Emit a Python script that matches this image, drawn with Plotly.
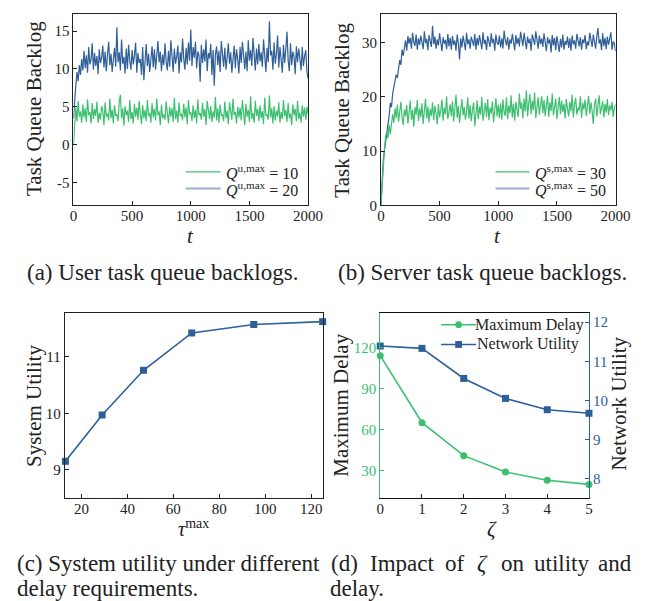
import plotly.graph_objects as go

# ---------------- data ----------------
t_vals = list(range(0, 2001, 10))

user_q10 = [0.0,
    3.4, 4.9, 3.1, 5.8, 3.7, 4.4, 2.9, 5.3, 3.6, 4.8, 3.0, 6.0, 3.9, 4.3, 2.8, 5.5, 3.4, 4.7, 3.8, 5.7,
    2.9, 4.2, 3.3, 5.1, 4.5, 2.6, 5.6, 3.7, 4.1, 3.2, 6.1, 3.5, 4.6, 2.8, 5.2, 3.8, 4.0, 3.1, 5.7, 6.6,
    3.5, 4.8, 2.5, 5.1, 3.9, 4.5, 3.0, 5.9, 3.4, 4.3, 2.8, 5.4, 3.7, 4.9, 3.3, 5.8, 4.1, 2.7, 5.2, 3.5,
    4.6, 3.1, 5.9, 3.8, 4.2, 2.9, 5.5, 3.6, 4.7, 3.2, 6.1, 3.9, 4.4, 2.6, 5.3, 3.5, 4.0, 3.3, 5.7, 4.2,
    2.8, 5.0, 3.7, 4.8, 3.0, 6.2, 3.4, 4.5, 2.9, 5.6, 3.8, 4.1, 3.2, 5.4, 3.6, 4.9, 2.7, 5.9, 4.0, 4.3,
    3.1, 5.2, 3.5, 4.6, 2.8, 6.0, 3.9, 4.2, 3.3, 5.5, 3.7, 4.7, 2.6, 5.8, 4.1, 3.4, 5.1, 3.0, 4.4, 3.6,
    6.3, 3.2, 4.8, 2.9, 5.3, 3.8, 4.0, 3.1, 5.7, 3.5, 4.5, 2.7, 5.6, 4.2, 3.3, 6.1, 3.9, 4.3, 2.8, 5.0,
    3.6, 4.9, 3.2, 5.9, 4.1, 2.6, 5.4, 3.7, 4.6, 3.0, 6.4, 3.4, 4.2, 2.9, 5.8, 3.8, 4.7, 3.1, 5.2, 3.5,
    4.4, 2.7, 6.2, 3.9, 4.0, 3.3, 6.5, 3.6, 4.8, 2.8, 5.1, 3.2, 4.5, 3.7, 5.6, 2.9, 4.3, 3.4, 5.9, 3.8,
    4.6, 3.0, 5.5, 3.5, 4.1, 2.6, 5.3, 3.9, 4.7, 3.1, 5.8, 3.4, 4.2, 2.9, 5.2, 3.7, 4.9, 3.3, 5.0, 4.1]

user_q20 = [3.5,
    6.5, 7.8, 9.6, 8.4, 10.5, 9.2, 11.3, 9.8, 12.4, 10.1, 11.8, 9.5, 12.9, 10.6, 11.2, 13.4, 9.9, 12.1, 10.4, 11.7,
    9.3, 12.6, 10.8, 11.5, 13.1, 10.2, 12.3, 9.7, 11.9, 13.6, 10.5, 12.0, 9.6, 11.4, 12.8, 10.3, 15.5, 10.9, 12.2, 9.8,
    13.9, 10.7, 11.6, 9.4, 12.7, 10.0, 13.2, 11.1, 9.9, 12.5, 10.6, 11.8, 13.5, 9.5, 12.1, 10.8, 11.3, 9.2, 12.9, 8.5,
    11.7, 13.3, 10.4, 12.0, 9.6, 11.5, 13.0, 10.2, 12.6, 9.9, 11.4, 13.7, 10.9, 12.3, 9.7, 11.9, 10.5, 13.4, 11.0, 9.8,
    12.4, 10.3, 13.8, 11.2, 9.6, 12.7, 10.7, 11.6, 13.1, 9.4, 12.2, 10.9, 14.0, 11.3, 9.9, 12.8, 10.6, 13.5, 11.1, 15.2,
    10.4, 12.9, 11.5, 13.6, 10.1, 12.3, 11.8, 8.3, 13.2, 10.8, 12.6, 11.0, 13.9, 9.7, 12.1, 11.4, 13.3, 9.2, 12.5, 7.8,
    11.9, 13.0, 10.5, 12.4, 9.6, 13.7, 11.2, 10.3, 12.8, 9.9, 11.6, 13.4, 10.7, 12.2, 9.5, 11.8, 13.1, 10.1, 12.6, 11.3,
    9.4, 12.9, 10.8, 13.6, 11.5, 10.0, 12.3, 9.7, 13.8, 11.1, 12.5, 10.4, 14.1, 11.7, 9.8, 12.7, 10.6, 13.3, 11.0, 12.2,
    10.3, 13.9, 11.4, 9.6, 12.8, 10.9, 16.3, 11.8, 12.4, 9.9, 13.5, 10.7, 12.0, 14.4, 10.2, 12.9, 11.3, 9.5, 13.2, 10.8,
    12.6, 14.9, 11.1, 9.7, 13.4, 10.5, 12.3, 11.6, 9.3, 13.0, 10.9, 12.7, 11.4, 9.8, 12.9, 10.4, 11.7, 12.5, 9.6, 8.7]

server_q30 = [0.0,
    4.2, 7.9, 10.3, 12.8, 13.5, 12.4, 14.9, 13.1, 15.6, 16.8, 15.2, 17.9, 16.1, 18.6, 15.4, 17.3, 19.1, 16.2, 14.8, 17.7,
    16.4, 18.5, 15.1, 17.2, 19.3, 15.8, 17.6, 14.5, 18.1, 16.7, 19.4, 15.5, 17.9, 16.3, 18.8, 15.0, 17.4, 19.7, 16.0, 18.2,
    15.3, 17.8, 16.5, 19.0, 15.7, 18.4, 16.9, 14.9, 18.7, 16.2, 17.5, 19.5, 15.6, 18.0, 16.8, 20.1, 15.9, 17.1, 18.6, 16.4,
    19.2, 15.4, 17.7, 20.4, 16.1, 18.3, 15.2, 17.9, 19.6, 16.6, 18.1, 15.8, 17.3, 19.9, 16.0, 18.5, 15.5, 17.6, 19.0, 14.6,
    17.8, 19.3, 15.9, 18.2, 16.7, 20.0, 15.6, 17.4, 18.9, 16.3, 19.6, 15.7, 18.0, 16.9, 19.2, 15.3, 17.7, 19.8, 16.4, 18.6,
    16.1, 18.8, 15.8, 19.5, 17.2, 16.5, 19.9, 15.9, 18.4, 17.0, 20.3, 16.2, 18.7, 15.6, 19.1, 17.5, 16.3, 20.6, 17.8, 19.0,
    16.0, 19.7, 17.3, 21.2, 16.4, 18.9, 20.5, 16.8, 19.3, 17.6, 20.8, 16.1, 18.6, 19.9, 16.7, 18.2, 20.1, 17.0, 19.4, 16.5,
    18.8, 20.2, 16.3, 19.0, 17.4, 20.6, 16.6, 18.5, 19.7, 15.9, 18.1, 20.0, 16.8, 19.3, 17.2, 18.7, 16.0, 19.6, 17.9, 16.4,
    19.1, 17.3, 20.4, 16.2, 18.6, 19.8, 16.7, 18.0, 17.5, 20.1, 16.1, 18.9, 17.7, 19.5, 16.5, 18.3, 20.2, 16.9, 19.0, 17.4,
    15.0, 18.5, 19.7, 16.4, 18.1, 20.3, 16.8, 17.9, 19.2, 16.2, 18.7, 17.1, 19.6, 16.6, 18.4, 17.5, 19.1, 16.3, 18.0, 18.6]

server_q50 = [0.0,
    4.5, 8.2, 10.1, 11.5, 13.6, 14.8, 16.5, 18.9, 18.1, 20.6, 21.8, 22.4, 24.1, 23.5, 25.6, 26.8, 25.9, 28.7, 27.6, 29.3,
    30.4, 28.5, 31.2, 29.8, 30.9, 28.9, 31.8, 30.1, 29.4, 31.5, 28.7, 30.8, 29.6, 31.3, 30.2, 28.8, 32.1, 29.9, 30.7, 28.6,
    31.4, 30.0, 29.2, 33.1, 29.7, 31.1, 28.9, 30.6, 29.5, 31.7, 30.3, 28.4, 31.0, 29.8, 30.5, 28.8, 31.6, 29.3, 30.9, 28.7,
    31.2, 29.6, 30.4, 28.5, 31.5, 29.9, 26.9, 30.8, 29.1, 31.3, 30.0, 28.6, 31.8, 29.7, 30.6, 28.9, 31.1, 30.2, 29.4, 31.6,
    28.7, 30.9, 29.5, 31.4, 30.1, 28.8, 31.9, 29.8, 30.5, 28.6, 31.2, 30.3, 29.2, 31.7, 29.9, 30.7, 28.5, 31.5, 30.0, 29.6,
    31.3, 29.1, 30.8, 28.9, 32.2, 30.4, 29.5, 31.0, 28.7, 30.6, 29.8, 31.6, 30.2, 28.6, 31.4, 29.7, 30.9, 29.3, 32.0, 30.1,
    29.4, 31.8, 30.5, 28.8, 31.1, 29.9, 30.7, 28.5, 31.5, 30.2, 29.6, 32.1, 30.0, 28.9, 31.3, 29.7, 30.8, 29.2, 31.7, 30.4,
    28.4, 31.0, 29.8, 30.6, 28.2, 31.4, 29.5, 30.9, 28.6, 31.2, 29.9, 28.3, 30.7, 29.1, 31.5, 28.7, 30.3, 29.6, 31.1, 29.0,
    30.8, 28.5, 31.3, 29.7, 30.4, 28.9, 31.6, 30.1, 29.3, 31.0, 28.7, 30.6, 29.9, 31.4, 28.8, 30.2, 29.5, 31.8, 30.0, 29.2,
    31.5, 30.3, 28.9, 31.2, 32.7, 29.8, 30.6, 28.6, 31.7, 29.4, 30.9, 28.8, 31.1, 29.6, 30.5, 31.9, 28.7, 30.2, 29.9, 28.4]

tau_max = [13, 29, 47, 68, 95, 125]
system_utility = [9.15, 9.97, 10.76, 11.42, 11.57, 11.62]

zeta = [0, 1, 2, 3, 4, 5]
max_delay = [114, 65, 41, 29, 23, 20]
network_utility = [11.39, 11.33, 10.56, 10.05, 9.76, 9.67]

ticks_a_y = [-5, 0, 5, 10, 15]
ticks_a_y_text = ["-5", "0", "5", "10", "15"]
ticks_t = [0, 500, 1000, 1500, 2000]

# ---------------- style ----------------
W, H = 652, 601
FONT = "'Liberation Serif', 'Times New Roman', Times, 'DejaVu Serif', serif"
GREEN = "#3cc070"
BLUE = "#2f5f98"
BLUE_LIGHT = "rgba(47,95,152,0.5)"
DARK = "#222222"


def px_x(a, b):
    return [a / W, b / W]


def px_y(top, bottom):
    return [1 - bottom / H, 1 - top / H]


def ax(**kw):
    d = dict(showline=True, linecolor=DARK, linewidth=1, mirror=True,
             ticks="inside", ticklen=4, tickwidth=1, tickcolor=DARK,
             showgrid=False, zeroline=False,
             tickfont=dict(family=FONT, size=15, color=DARK))
    d.update(kw)
    return d


fig = go.Figure()
LW = 1.2
# (a)
fig.add_trace(go.Scatter(x=t_vals[:len(user_q20)], y=user_q20, mode="lines",
                         line=dict(color=BLUE, width=LW), xaxis="x", yaxis="y", showlegend=False))
fig.add_trace(go.Scatter(x=t_vals[:len(user_q10)], y=user_q10, mode="lines",
                         line=dict(color=GREEN, width=LW), xaxis="x", yaxis="y", showlegend=False))
# (b)
fig.add_trace(go.Scatter(x=t_vals[:len(server_q50)], y=server_q50, mode="lines",
                         line=dict(color=BLUE, width=LW), xaxis="x2", yaxis="y2", showlegend=False))
fig.add_trace(go.Scatter(x=t_vals[:len(server_q30)], y=server_q30, mode="lines",
                         line=dict(color=GREEN, width=LW), xaxis="x2", yaxis="y2", showlegend=False))
# (c)
fig.add_trace(go.Scatter(x=tau_max, y=system_utility, mode="lines+markers",
                         line=dict(color=BLUE, width=1.6),
                         marker=dict(symbol="square", size=7, color=BLUE),
                         xaxis="x3", yaxis="y3", showlegend=False, cliponaxis=False))
# (d)
fig.add_trace(go.Scatter(x=zeta, y=max_delay, mode="lines+markers",
                         line=dict(color=GREEN, width=1.6),
                         marker=dict(symbol="circle", size=7, color=GREEN),
                         xaxis="x4", yaxis="y4", showlegend=False, cliponaxis=False))
fig.add_trace(go.Scatter(x=zeta, y=network_utility, mode="lines+markers",
                         line=dict(color=BLUE, width=1.6),
                         marker=dict(symbol="square", size=7, color=BLUE),
                         xaxis="x4", yaxis="y5", showlegend=False, cliponaxis=False))

XSTAND = -3

fig.update_layout(
    width=W, height=H, margin=dict(l=0, r=0, t=0, b=0),
    paper_bgcolor="white", plot_bgcolor="white", showlegend=False,
    font=dict(family=FONT, color=DARK),
    xaxis=ax(domain=px_x(63.3, 305), range=[0, 2000], tickvals=ticks_t, anchor="y",
             ticklabelstandoff=XSTAND),
    yaxis=ax(domain=px_y(6.5, 200), range=[-8, 17.2], tickvals=ticks_a_y,
             ticktext=ticks_a_y_text, anchor="x"),
    xaxis2=ax(domain=px_x(380, 621.7), range=[0, 2000], tickvals=ticks_t, anchor="y2",
              ticklabelstandoff=XSTAND),
    yaxis2=ax(domain=px_y(6.5, 200), range=[0, 35.2], tickvals=[0, 10, 20, 30], anchor="x2"),
    xaxis3=ax(domain=px_x(54.3, 320.7), range=[12.7, 125.3],
              tickvals=[20, 40, 60, 80, 100, 120], anchor="y3", ticklabelstandoff=XSTAND),
    yaxis3=ax(domain=px_y(309.3, 496.7), range=[8.5, 11.77], tickvals=[9, 10, 11], anchor="x3"),
    xaxis4=ax(domain=px_x(379.3, 594.3), range=[0, 5], tickvals=zeta, anchor="y4",
              linecolor="#111111", ticklabelstandoff=XSTAND),
    yaxis4=ax(domain=px_y(309.3, 496.7), range=[10, 145], tickvals=[30, 60, 90, 120],
              anchor="x4", mirror=False, linecolor=GREEN, tickcolor=GREEN,
              tickfont=dict(family=FONT, size=15, color=GREEN)),
    yaxis5=ax(range=[7.5, 12.23], tickvals=[8, 9, 10, 11, 12], anchor="x4",
              overlaying="y4", side="right", mirror=False, linecolor=BLUE, tickcolor=BLUE,
              tickfont=dict(family=FONT, size=15, color=BLUE)),
)

annotations = []
shapes = []


def ann(x, y, text, size, angle=0, color=DARK):
    # all texts are centred on (x, y) in pixels from the top-left corner
    annotations.append(dict(x=x / W, y=1 - y / H, xref="paper", yref="paper", text=text,
                            showarrow=False, xanchor="center", yanchor="middle",
                            textangle=angle, font=dict(family=FONT, size=size, color=color)))


def legline(x0, x1, y, color, width=1.3):
    shapes.append(dict(type="line", xref="paper", yref="paper", x0=x0 / W, x1=x1 / W,
                       y0=1 - y / H, y1=1 - y / H, line=dict(color=color, width=width)))


# axis titles
ann(22, 102, "Task Queue Backlog", 21, angle=-90)
ann(340, 104, "Task Queue Backlog", 21, angle=-90)
ann(184, 231, "<i>t</i>", 21)
ann(500, 231, "<i>t</i>", 21)
ann(22, 403, "System Utility", 21, angle=-90)
ann(187, 527, "<i>τ</i><sup>max</sup>", 20)
ann(339, 403, "Maximum Delay", 21, angle=-90)
ann(625, 401, "Network Utility", 21, angle=-90)
ann(494, 528, "<i>ζ</i>", 21)

# legends (a), (b)
legline(179, 215, 166, GREEN)
legline(179, 215, 183, BLUE_LIGHT, 2)
ann(257, 166, "<i>Q</i><sup>u,max</sup> = 10", 16)
ann(257, 183, "<i>Q</i><sup>u,max</sup> = 20", 16)
legline(498, 533, 166, GREEN)
legline(498, 533, 183, BLUE_LIGHT, 2)
ann(575, 166, "<i>Q</i><sup>s,max</sup> = 30", 16)
ann(575, 183, "<i>Q</i><sup>s,max</sup> = 50", 16)

# legend (d)
legline(442, 478, 321, GREEN, 1.6)
legline(442, 478, 341, BLUE, 1.6)
shapes.append(dict(type="circle", xref="paper", yref="paper", x0=456.5 / W, x1=463.5 / W,
                   y0=1 - 324.5 / H, y1=1 - 317.5 / H, fillcolor=GREEN, line=dict(width=0)))
shapes.append(dict(type="rect", xref="paper", yref="paper", x0=456.5 / W, x1=463.5 / W,
                   y0=1 - 344.5 / H, y1=1 - 337.5 / H, fillcolor=BLUE, line=dict(width=0)))
ann(533, 321, "Maximum Delay", 16)
ann(531, 341, "Network Utility", 16)

# captions
CAP = 23
ann(155, 268, "(a) User task queue backlogs.", CAP)
ann(485, 268, "(b) Server task queue backlogs.", CAP)
ann(161, 563, "(c) System utility under different", CAP)
ann(98, 588, "delay requirements.", CAP)
# justified first line of caption (d)
ann(342, 563, "(d)", CAP)
ann(402, 563, "Impact", CAP)
ann(456, 563, "of", CAP)
ann(485, 563, "<i>ζ</i>", CAP)
ann(516, 563, "on", CAP)
ann(566, 563, "utility", CAP)
ann(621, 563, "and", CAP)
ann(355, 588, "delay.", CAP)

fig.update_layout(annotations=annotations, shapes=shapes)
fig.write_html("out.html")
